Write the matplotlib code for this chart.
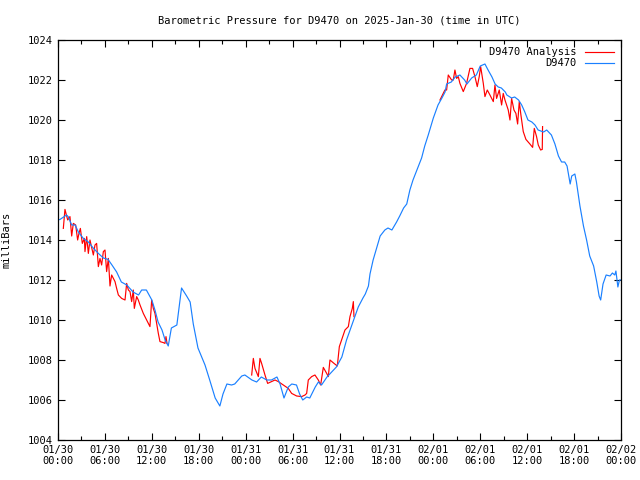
import numpy as np
import matplotlib
matplotlib.use("Agg")
import matplotlib.pyplot as plt

plt.rcParams['font.family'] = ['DejaVu Sans Mono']

# station obs (hours since 2025-01-30 00:00 UTC, mb)
obs_hours = [0.0, 0.26, 1.1, 1.3, 1.75, 2.2, 2.6, 3.24, 3.88, 4.5, 5.16, 5.8, 6.4, 6.9,
             7.5, 8.1, 8.8, 9.6, 10.3, 10.7, 11.3, 12.0, 12.4, 12.8, 13.3, 13.7, 14.1,
             14.5, 15.2, 15.8, 16.45, 16.9, 17.3, 17.9, 18.8, 19.4, 20.1, 20.7, 21.1,
             21.6, 22.2, 22.6, 23.5, 23.9, 24.8, 25.4, 26.0, 26.7, 27.3, 28.0, 28.4,
             28.9, 29.45, 29.9, 30.5, 30.9, 31.3, 31.8, 32.2, 32.9, 33.3, 33.7, 34.4,
             35.0, 35.6, 36.3, 36.9, 37.8, 38.4, 39.0, 39.3, 39.7, 39.9, 40.3, 40.75,
             41.2, 41.8, 42.2, 42.7, 43.3, 43.7, 44.2, 44.6, 45.0, 45.4, 45.9, 46.5,
             46.9, 47.35, 48.0, 48.6, 49.1, 49.5, 49.7, 50.3, 50.8, 51.4, 52.0, 52.3,
             52.9, 53.5, 54.0, 54.6, 55.0, 55.5, 55.9, 56.3, 56.7, 57.2, 57.4, 58.0,
             58.4, 58.9, 59.3, 59.7, 60.1, 60.6, 61.0, 61.4, 62.1, 62.5, 63.1, 63.55,
             64.0, 64.4, 64.8, 65.1, 65.5, 65.7, 66.1, 66.3, 66.75, 67.2, 67.6, 68.0,
             68.5, 68.9, 69.2, 69.4, 69.7, 70.1, 70.6, 70.9, 71.2, 71.35, 71.6, 71.8, 72.0]
obs_mb = [1015.0, 1015.03, 1015.25, 1015.17, 1014.75, 1014.75, 1014.4, 1014.08, 1013.9,
          1013.6, 1013.33, 1013.1, 1013.03, 1012.75, 1012.4, 1011.9, 1011.75, 1011.4,
          1011.25, 1011.5, 1011.5, 1011.0, 1010.5, 1009.9, 1009.5, 1009.0, 1008.7,
          1009.6, 1009.75, 1011.6, 1011.2, 1010.9, 1009.8, 1008.6, 1007.75, 1007.0,
          1006.1, 1005.7, 1006.3, 1006.8, 1006.75, 1006.8, 1007.2, 1007.25, 1007.0,
          1006.9, 1007.15, 1007.0, 1007.0, 1007.15, 1006.8, 1006.1, 1006.65, 1006.8,
          1006.75, 1006.3, 1006.0, 1006.15, 1006.1, 1006.65, 1006.9, 1006.75, 1007.15,
          1007.4, 1007.65, 1008.15, 1009.0, 1010.0, 1010.65, 1011.1, 1011.3, 1011.7,
          1012.3, 1013.0, 1013.6, 1014.2, 1014.5, 1014.6, 1014.5, 1014.9, 1015.2,
          1015.6, 1015.8, 1016.5, 1017.0, 1017.5, 1018.1, 1018.7, 1019.25, 1020.1,
          1020.75, 1021.1, 1021.4, 1021.8, 1021.9, 1022.15, 1022.25, 1022.0, 1021.8,
          1022.1, 1022.25, 1022.7, 1022.8, 1022.5, 1022.15, 1021.8, 1021.65, 1021.6,
          1021.4, 1021.25, 1021.1, 1021.15, 1021.0, 1020.75, 1020.4, 1020.0, 1019.9,
          1019.75, 1019.5, 1019.4, 1019.5, 1019.25, 1018.8, 1018.2, 1017.9, 1017.9,
          1017.7, 1016.8, 1017.2, 1017.3, 1016.9, 1015.7, 1014.7, 1014.0, 1013.2,
          1012.7, 1011.9, 1011.2, 1011.0, 1011.8, 1012.25, 1012.2, 1012.35, 1012.25,
          1012.45, 1011.65, 1012.0, 1012.0]

# analysis (NaN marks gaps)
ana_hours = [0.68, 0.89, 1.24, 1.53, 1.75, 1.96, 2.26, 2.51, 2.68, 2.86, 3.11, 3.37, 3.45,
             3.67, 3.88, 4.09, 4.52, 4.73, 4.94, 5.16, 5.37, 5.58, 5.8, 6.01, 6.22, 6.44,
             6.65, 6.86, 7.08, 7.29, 7.5, 7.72, 8.14, 8.57, 8.78, 9.0, 9.21, 9.42, 9.63,
             9.76, 10.06, 10.27, 10.49, 10.91, 11.34, 11.76, 11.98, 12.19, 12.4, 12.83,
             13.04, 13.47, 13.68, 13.81, 13.94, 14.0,
             24.77, 24.98, 25.19, 25.62, 25.83, 26.04, 26.47, 26.81, 27.32, 27.75, 28.18,
             28.82, 29.45, 29.88, 30.52, 31.16, 31.59, 31.8, 32.01, 32.44, 32.86, 33.29,
             33.59, 33.93, 34.36, 34.57, 34.78, 35.3, 35.72, 35.98, 36.27, 36.7, 37.13,
             37.34, 37.64, 37.77, 37.85, 38.0,
             48.85, 49.48, 49.7, 49.91, 50.34, 50.55, 50.76, 50.98, 51.19, 51.4, 51.83,
             52.25, 52.68, 53.02, 53.32, 53.62, 53.87, 54.05, 54.39, 54.6, 54.9, 55.24,
             55.67, 55.88, 56.09, 56.43, 56.73, 56.94, 57.16, 57.58, 57.8, 58.01, 58.31,
             58.56, 58.78, 58.99, 59.2, 59.5, 59.84, 60.35, 60.7, 60.91, 61.2, 61.42,
             61.72, 61.93, 61.97]
ana_mb = [1014.58, 1015.53, 1015.0, 1015.17, 1014.2, 1014.83, 1014.75, 1014.0, 1014.33,
          1014.58, 1013.83, 1014.08, 1013.42, 1014.17, 1013.33, 1014.0, 1013.25, 1013.75,
          1013.83, 1012.67, 1013.08, 1012.75, 1013.42, 1013.5, 1012.42, 1013.08, 1011.7,
          1012.25, 1012.08, 1011.92, 1011.58, 1011.25, 1011.08, 1011.0, 1011.83, 1011.5,
          1011.42, 1010.92, 1011.5, 1010.58, 1011.17, 1011.0, 1010.75, 1010.33, 1010.0,
          1009.67, 1011.0, 1010.58, 1010.33, 1009.33, 1008.92, 1008.87, 1008.83, 1009.17,
          1008.83, np.nan,
          1007.25, 1008.08, 1007.58, 1007.17, 1008.08, 1007.83, 1007.25, 1006.83, 1006.92,
          1007.0, 1006.92, 1006.75, 1006.58, 1006.33, 1006.2, 1006.17, 1006.25, 1006.33,
          1007.0, 1007.17, 1007.25, 1007.0, 1006.75, 1007.63, 1007.33, 1007.17, 1008.0,
          1007.83, 1007.7, 1008.67, 1009.0, 1009.5, 1009.67, 1010.17, 1010.58, 1010.92,
          1010.17, np.nan,
          1021.0, 1021.5, 1021.5, 1022.25, 1022.0, 1022.0, 1022.5, 1022.08, 1022.17,
          1021.83, 1021.42, 1021.83, 1022.58, 1022.58, 1022.17, 1021.67, 1022.17, 1022.67,
          1021.83, 1021.17, 1021.5, 1021.25, 1020.92, 1021.75, 1021.08, 1021.5, 1020.75,
          1021.33, 1021.0, 1020.5, 1020.0, 1021.08, 1020.5, 1020.33, 1019.8, 1020.92,
          1020.25, 1019.42, 1019.03, 1018.8, 1018.63, 1019.58, 1019.17, 1018.75, 1018.5,
          1018.53, 1019.67]

tick_hours = list(range(0, 73, 6))
tick_labels = ["01/30\n00:00", "01/30\n06:00", "01/30\n12:00", "01/30\n18:00",
               "01/31\n00:00", "01/31\n06:00", "01/31\n12:00", "01/31\n18:00",
               "02/01\n00:00", "02/01\n06:00", "02/01\n12:00", "02/01\n18:00",
               "02/02\n00:00"]

fig = plt.figure(figsize=(6.4, 4.8), dpi=100)
ax = fig.add_axes([58 / 640, 40 / 480, 563 / 640, 400 / 480])

ax.plot(ana_hours, ana_mb, color='#ff0000', lw=0.85, label='D9470 Analysis')
ax.plot(obs_hours, obs_mb, color='#1a80ff', lw=0.85, label='D9470')

ax.set_xlim(0, 72)
ax.set_ylim(1004, 1024)
ax.set_xticks(tick_hours)
ax.set_xticklabels(tick_labels)
ax.set_xticks(range(3, 72, 6), minor=True)
ax.set_yticks(range(1004, 1025, 2))
ax.tick_params(direction='in', top=True, right=True, labelsize=7.5, length=5, width=0.8)
ax.tick_params(which='minor', direction='in', top=True, length=3, width=0.8)
for s in ax.spines.values():
    s.set_linewidth(0.9)

ax.set_ylabel('milliBars', fontsize=7.5, labelpad=12)
ax.set_title('Barometric Pressure for D9470 on 2025-Jan-30 (time in UTC)', fontsize=7.5, pad=12)

ax.legend(loc='upper right', frameon=False, markerfirst=False, fontsize=7.5,
          handlelength=2.8, labelspacing=0.1, borderaxespad=0.3)

fig.savefig('out.png', dpi=100)
